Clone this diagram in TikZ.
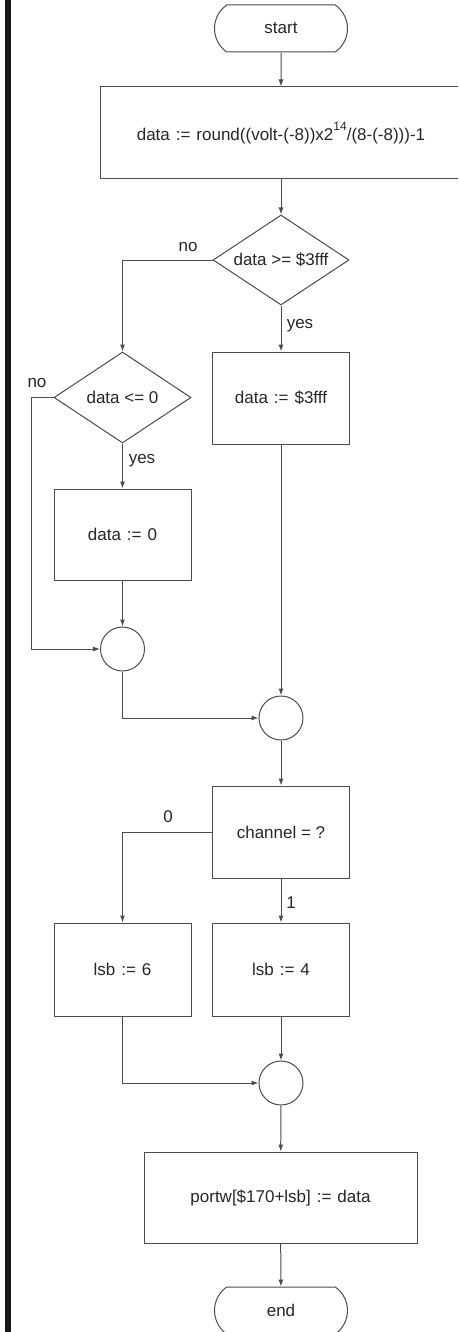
\documentclass[tikz,border=0pt]{standalone}
\usepackage{fontspec}
\setmainfont{Liberation Sans}
\usetikzlibrary{shapes.geometric,shapes.misc,arrows.meta}
\newcommand{\asg}{\hspace{0.35em}:=\hspace{0.35em}}
\begin{document}
\begin{tikzpicture}[x=1pt,y=-1pt,
  every node/.style={font=\fontsize{17}{20}\selectfont, text=black!85},
  ln/.style={draw=black!70, line width=1pt},
  arr/.style={ln, -{Latex[length=7pt,width=5pt]}},
  procbox/.style={ln, rectangle, inner sep=0pt, minimum width=137pt, minimum height=92pt},
  term/.style={ln, rounded rectangle, rounded rectangle arc length=110, minimum width=133pt, minimum height=47pt, inner sep=0pt},
  decision/.style={ln, diamond, inner sep=0pt, minimum width=136pt, minimum height=90pt},
  junction/.style={ln, circle, inner sep=0pt, minimum size=44pt},
  lbl/.style={inner sep=0pt}
]
\path[use as bounding box, clip] (0,0) rectangle (458,1332);
\fill[black!90] (5,0) rectangle (11,1332);

\node[term] (start) at (281,28.5) {start};
\node[procbox, minimum width=362pt, minimum height=92pt] (init) at (281,133) {data\asg round((volt-(-8))x2\raisebox{0.62em}{\fontsize{12}{12}\selectfont 14}/(8-(-8)))-1};
\node[decision] (d1) at (281,260) {\makebox[0pt]{data >= \$3fff}};
\node[procbox] (max) at (281,398) {data\asg \$3fff};
\node[decision, minimum width=137pt, minimum height=91pt] (d2) at (122.5,397.5) {\makebox[0pt]{data <= 0}};
\node[procbox, minimum height=91pt] (zero) at (122.5,534.5) {data\asg 0};
\node[junction] (j1) at (122.5,649) {};
\node[junction] (j2) at (281,718) {};
\node[procbox] (chan) at (281,832) {channel = ?};
\node[procbox, minimum height=93pt] (l6) at (122.5,969.5) {lsb\asg 6};
\node[procbox, minimum height=93pt] (l4) at (281,969.5) {lsb\asg 4};
\node[junction] (j3) at (281,1083) {};
\node[procbox, minimum width=273pt, minimum height=91pt] (port) at (280.5,1197.5) {portw[\$170+lsb]\asg data};
\node[term] (end) at (281,1310.5) {end};

\node[lbl] (no1) at (188,247) {no};
\node[lbl] (yes1) at (300,326) {yes};
\node[lbl] (no2) at (37,383) {no};
\node[lbl] (yes2) at (142,461) {yes};
\node[lbl] (zerolbl) at (168,817) {0};
\node[lbl] (onelbl) at (291,903) {1};

\coordinate (nobend) at (31,397.5);

\draw[arr] (start) -- (init);
\draw[arr] (init) -- (d1);
\draw[arr] (d1.west) -| (d2.north);
\draw[arr] (d1) -- (max);
\draw[arr] (d2) -- (zero);
\draw[arr] (d2.west) -- (nobend) |- (j1.west);
\draw[arr] (zero) -- (j1);
\draw[arr] (max) -- (j2);
\draw[arr] (j1.south) |- (j2.west);
\draw[arr] (j2) -- (chan);
\draw[arr] (chan.west) -| (l6.north);
\draw[arr] (chan) -- (l4);
\draw[arr] (l6.south) |- (j3.west);
\draw[arr] (l4) -- (j3);
\draw[arr] (j3) -- (port);
\draw[arr] (port) -- (end);
\end{tikzpicture}
\end{document}
